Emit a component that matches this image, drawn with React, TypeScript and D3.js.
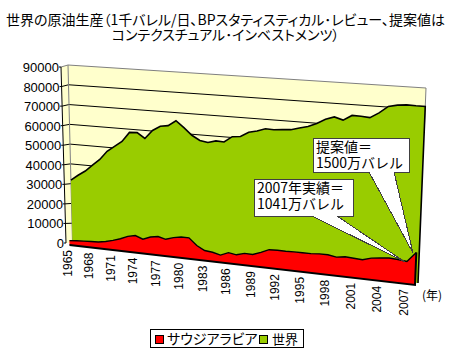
import React from "react";
import * as d3 from "d3";

const years = d3.range(1965, 2009);
const world = [31800,34600,37100,40400,43600,48000,50800,53600,58400,58600,56000,60300,62700,63300,66000,62900,59500,57300,56600,57700,57500,60400,60800,63200,64100,65500,65300,65800,66000,67100,68100,69900,72200,73600,72400,74900,74800,74500,77000,80300,81200,81600,81500,81500];
const saudi = [2200,2600,2800,3000,3200,3850,4820,6070,7690,8480,7080,8580,9240,8300,9530,10270,10260,6960,4950,4530,3600,5210,4600,5720,5630,7100,8820,9000,8960,9080,9090,9140,9480,9500,8840,9470,9210,8930,10160,10630,11110,10850,10410,15000];
const yTicks = d3.range(0, 90001, 10000);
const xLabels = d3.range(1965, 2008, 3);
const titleLines = ["世界の原油生産（1千バレル/日、BPスタティスティカル･レビュー、提案値は", "コンテクスチュアル･インベストメンツ）"];
const font = "'Noto Sans CJK JP','Liberation Sans',sans-serif";
const num = "'Liberation Sans',sans-serif";
const palt: React.CSSProperties = { fontFeatureSettings: "'palt'" };

const W = 1.121;
const yearScale = d3.scaleLinear().domain([1965, 2008]).range([0, 1]);
const persp = (yr: number) => { const t = yearScale(yr); return t / (t + W * (1 - t)); };
const frac = d3.scaleLinear().domain([0, 90000]).range([0, 1]);
const B0 = [72.5, 243], T0 = [68, 65], B1 = [418, 283], T1 = [426, 88];
const proj = (yr: number, v: number, ox = 0, oy = 0): [number, number] => {
  const s = persp(yr), f = frac(v);
  const bx = B0[0] + (B1[0] - B0[0]) * s, by = B0[1] + (B1[1] - B0[1]) * s;
  const tx = T0[0] + (T1[0] - T0[0]) * s, ty = T0[1] + (T1[1] - T0[1]) * s;
  return [bx + (tx - bx) * f + ox, by + (ty - by) * f + oy];
};
const axisPt = (v: number): [number, number] => {
  const f = frac(v);
  return [66 + (61 - 66) * f, 243 + (67 - 243) * f];
};
const line = d3.line();
const last = years[years.length - 1];

function Callout({ box, base, tip, lines }: { box: number[]; base: number[]; tip: number[]; lines: string[] }) {
  const [x0, y0, x1, y1] = box;
  const d = line([[x0, y0], [x1, y0], [x1, y1], [base[1], y1], tip as [number, number], [base[0], y1], [x0, y1]] as [number, number][]) + "Z";
  return (
    <g>
      <path d={d} fill="#fff" stroke="#404040" strokeWidth={1} shapeRendering="crispEdges" />
      <text fontSize={14} fontFamily={font} fill="#000">
        {lines.map((s, i) => (
          <tspan key={i} x={x0 + 3} y={y0 + 14 + i * 16}>{s}</tspan>
        ))}
      </text>
    </g>
  );
}

export default function App() {
  const worldTop = years.map((y, i) => proj(y, world[i]));
  const worldPoly = [...worldTop, proj(last, 0), proj(1965, 0)];
  const ox = -3, oy = 2;
  const saudiTop = years.map((y, i) => proj(y, saudi[i], ox, oy));
  const saudiPoly = [...saudiTop, proj(last, 0, ox, oy), proj(1965, 0, ox, oy)];
  return (
    <svg width={455} height={354} style={{ position: "absolute", left: 0, top: 0, background: "#fff" }}>
      <text fontSize={14} fontFamily={font} textAnchor="middle" style={palt}>
        <tspan x={225.5} y={25}>{titleLines[0]}</tspan>
        <tspan x={225.5} y={40}>{titleLines[1]}</tspan>
      </text>

      <path d={line([axisPt(90000), proj(1965, 90000), proj(1965, 0), axisPt(0)])! + "Z"} fill="#ffffcc" />
      <path d={line([proj(1965, 90000), proj(last, 90000), proj(last, 0), proj(1965, 0)])! + "Z"} fill="#ffffcc" />
      {yTicks.filter(v => v > 0 && v < 90000).map(v => (
        <path key={v} d={line([axisPt(v), proj(1965, v), proj(last, v)])!} fill="none" stroke="#000" strokeWidth={1} />
      ))}
      <path d={line([axisPt(90000), proj(1965, 90000), proj(last, 90000), proj(last, 70000)])!} fill="none" stroke="#808080" strokeWidth={1} />
      <path d={line([proj(1965, 90000), proj(1965, 0)])!} fill="none" stroke="#808080" strokeWidth={1} />

      <path d={line(worldPoly)! + "Z"} fill="#99cc00" />
      <path d={line([...worldTop, proj(last, 0)])!} fill="none" stroke="#000" strokeWidth={1.6} />
      <path d={line(saudiPoly)! + "Z"} fill="#ff0000" />
      <path d={line(saudiTop)!} fill="none" stroke="#000" strokeWidth={1.4} />
      <path d={line([proj(1965, 0, ox, oy), proj(last, 0, ox, oy), proj(last, 15000, ox, oy)])!} fill="none" stroke="#000" strokeWidth={2} />

      <path d={line([axisPt(90000), axisPt(0)])!} fill="none" stroke="#000" strokeWidth={1} />
      {yTicks.map(v => {
        const [x, y] = axisPt(v);
        return (
          <g key={v}>
            <line x1={x - 2} x2={x} y1={y} y2={y} stroke="#000" />
            <text x={x - 2} y={y + 5} textAnchor="end" fontSize={13} fontFamily={num}>{v}</text>
          </g>
        );
      })}
      {xLabels.map(yr => {
        const [x, y] = proj(yr, 0, ox, oy);
        return (
          <text key={yr} transform={`translate(${x + 2},${y + 5}) rotate(-90)`} textAnchor="end" fontSize={12} fontFamily={num}>{yr}</text>
        );
      })}
      <text x={422} y={300} fontSize={12} fontFamily={font}>(年)</text>

      <Callout box={[313, 138, 409, 172]} base={[369, 394]} tip={[413, 253]} lines={["提案値＝", "1500万バレル"]} />
      <Callout box={[254, 179, 353, 216]} base={[312, 337]} tip={[405, 262]} lines={["2007年実績＝", "1041万バレル"]} />

      <rect x={150.5} y={329.5} width={153} height={18} fill="#fff" stroke="#000" />
      <rect x={155.5} y={335.5} width={8} height={8} fill="#ff0000" stroke="#000" />
      <text x={167} y={344} fontSize={14} fontFamily={font} style={palt}>サウジアラビア</text>
      <rect x={259.5} y={335.5} width={8} height={8} fill="#99cc00" stroke="#000" />
      <text x={272} y={344} fontSize={13} fontFamily={font}>世界</text>
    </svg>
  );
}
